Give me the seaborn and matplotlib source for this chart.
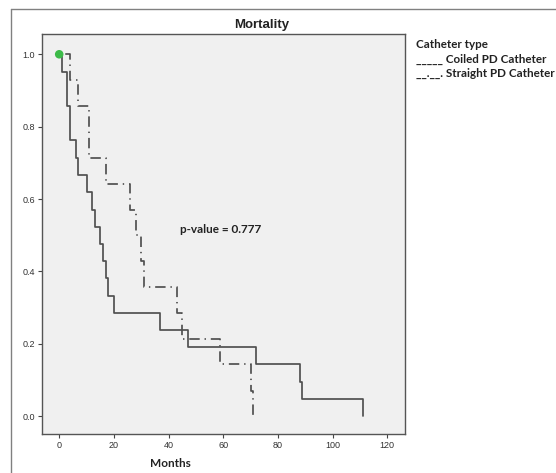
import numpy as np
import pandas as pd
import matplotlib
matplotlib.use("Agg")
import matplotlib.pyplot as plt
import seaborn as sns
from matplotlib.lines import Line2D

# Kaplan-Meier steps
coiled_months = [0, 1, 3, 4, 6, 7, 10, 12, 13, 15, 16, 17, 18, 20, 37, 47, 72, 88, 89, 111]
coiled_surv = [1.0, 0.952, 0.857, 0.762, 0.714, 0.667, 0.619, 0.571, 0.524, 0.476,
               0.429, 0.381, 0.333, 0.286, 0.238, 0.190, 0.143, 0.095, 0.048, 0.0]
straight_months = [0, 4, 7, 11, 17, 26, 28, 30, 31, 43, 45, 59, 70, 71]
straight_surv = [1.0, 0.929, 0.857, 0.714, 0.643, 0.571, 0.500, 0.429, 0.357,
                 0.286, 0.214, 0.143, 0.071, 0.0]
x_ticks = [0, 20, 40, 60, 80, 100, 120]
y_ticks = [0.0, 0.2, 0.4, 0.6, 0.8, 1.0]
y_tick_labels = ["0.0", "0.2", "0.4", "0.6", "0.8", "1.0"]
legend_title = "Catheter type"
legend_rows = ["_____ Coiled PD Catheter", "__.__. Straight PD Catheter"]
p_text = "p-value = 0.777"

sns.set_theme(style="white")
plt.rcParams['font.family'] = ['Liberation Sans', 'DejaVu Sans']
plt.rcParams['lines.scale_dashes'] = False

W, H = 556, 473
fig = plt.figure(figsize=(W / 100, H / 100), dpi=100)
ax = fig.add_axes([41.7 / W, 1 - 434 / H, (405 - 41.7) / W, (434 - 34) / H])
ax.set_facecolor('#f0f0f0')

coiled = pd.DataFrame({'Months': coiled_months, 'Survival': coiled_surv})
straight = pd.DataFrame({'Months': straight_months, 'Survival': straight_surv})

sns.lineplot(data=coiled, x='Months', y='Survival', estimator=None, sort=False,
             drawstyle='steps-post', color='#505050', lw=1.25, ax=ax)
sns.lineplot(data=straight, x='Months', y='Survival', estimator=None, sort=False,
             drawstyle='steps-post', color='#505050', lw=1.25,
             linestyle=(0, (1.0, 3.5, 7.5, 3.5)), ax=ax)
sns.scatterplot(x=[0], y=[1.0], s=38, color='#3cba48', edgecolor='none', zorder=5, ax=ax)

ax.set_xlim(-6.4, 126.5)
ax.set_ylim(-0.049, 1.056)
ax.set_xticks(x_ticks)
ax.set_yticks(y_ticks)
ax.set_yticklabels(y_tick_labels)
ax.set_xlabel('')
ax.set_ylabel('')
ax.tick_params(bottom=True, left=True, direction='out', length=3, width=0.8,
               color='#444444', labelsize=6.5, labelcolor='#333333', pad=2)
for sp in ax.spines.values():
    sp.set_color('#555555')
    sp.set_linewidth(1.0)

ax.text(44.2, 0.515, p_text, family=['Lato', 'DejaVu Sans'], fontweight='bold',
        fontsize=8.5, color='#222222', va='center', ha='left')

fig.text(262 / W, 1 - 25 / H, 'Mortality', ha='center', va='center',
         fontsize=9.5, fontweight='bold', color='#222222')
fig.text(170 / W, 1 - 463 / H, 'Months', ha='center', va='center',
         family=['Lato', 'DejaVu Sans'], fontweight='bold', fontsize=8.5, color='#222222')

fig.text(416 / W, 1 - 45 / H, legend_title, ha='left', va='center',
         family=['Lato', 'DejaVu Sans'], fontweight='bold', fontsize=8.4, color='#222222')
for i, row in enumerate(legend_rows):
    fig.text(416 / W, 1 - (59.5 + 13.5 * i) / H, row, ha='left', va='center',
             family=['Lato', 'DejaVu Sans'], fontweight='bold', fontsize=8.4, color='#222222')

# outer chart frame
fig.add_artist(Line2D([11 / W, 1.0], [1 - 9 / H, 1 - 9 / H], transform=fig.transFigure,
                      color='#808080', lw=1.0))
fig.add_artist(Line2D([11 / W, 11 / W], [1 - 9 / H, 0.0], transform=fig.transFigure,
                      color='#808080', lw=1.0))

fig.savefig('out.png', dpi=100)
